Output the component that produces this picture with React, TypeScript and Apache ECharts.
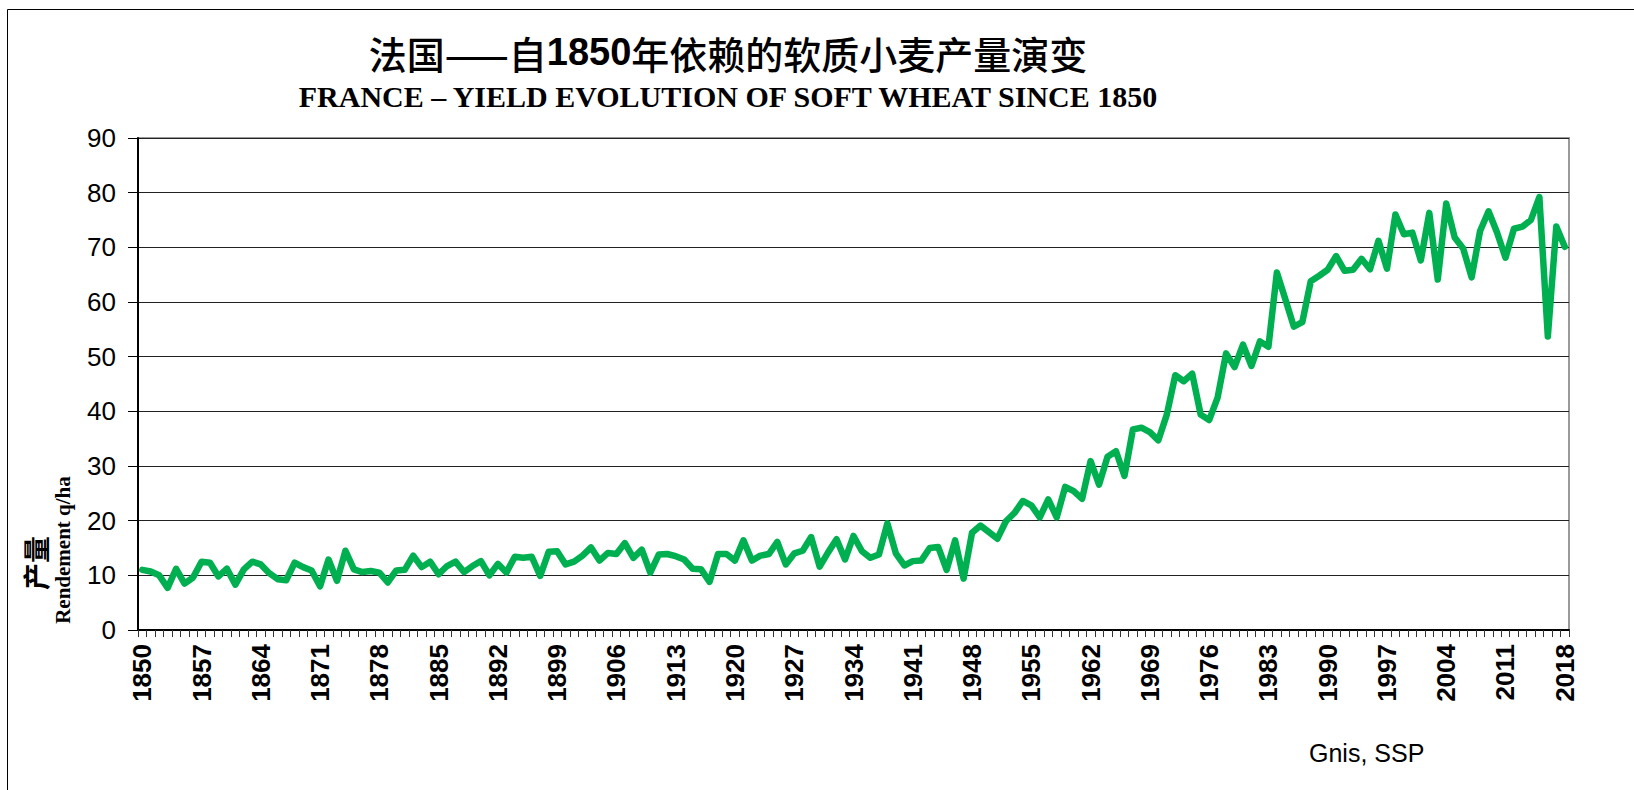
import React, { useEffect, useRef } from "react";
import * as echarts from "echarts";

const FIRST_YEAR = 1850;
const LAST_YEAR = 2018;
const years: string[] = [];
for (let y = FIRST_YEAR; y <= LAST_YEAR; y++) years.push(String(y));

// Rendement (q/ha), 1850 -> 2018
const yields1850s = [11.0, 10.7, 10.0, 7.7, 11.2, 8.5, 9.6, 12.5, 12.3, 9.8];
const yields1860s = [11.2, 8.3, 11.1, 12.5, 12.0, 10.4, 9.3, 9.1, 12.3, 11.5];
const yields1870s = [10.9, 8.0, 12.9, 9.0, 14.5, 11.1, 10.6, 10.8, 10.5, 8.7];
const yields1880s = [10.9, 11.0, 13.6, 11.5, 12.5, 10.2, 11.7, 12.5, 10.6, 11.7];
const yields1890s = [12.6, 10.0, 12.1, 10.5, 13.4, 13.2, 13.4, 9.9, 14.3, 14.4];
const yields1900s = [12.0, 12.5, 13.6, 15.1, 12.7, 14.1, 13.9, 15.9, 13.2, 14.7];
const yields1910s = [10.5, 13.8, 13.9, 13.5, 12.9, 11.2, 11.1, 8.8, 13.9, 13.9];
const yields1920s = [12.7, 16.4, 12.7, 13.6, 13.9, 16.1, 12.0, 14.0, 14.5, 17.0];
const yields1930s = [11.6, 14.2, 16.6, 12.9, 17.2, 14.4, 13.2, 13.8, 19.5, 14.0];
const yields1940s = [11.8, 12.6, 12.7, 15.0, 15.2, 11.0, 16.4, 9.4, 17.8, 19.1];
const yields1950s = [17.9, 16.7, 19.9, 21.4, 23.6, 22.8, 20.6, 23.9, 20.6, 26.2];
const yields1960s = [25.4, 24.0, 30.9, 26.6, 31.7, 32.7, 28.2, 36.7, 37.0, 36.2];
const yields1970s = [34.7, 39.4, 46.6, 45.5, 46.9, 39.4, 38.4, 42.5, 50.6, 48.1];
const yields1980s = [52.2, 48.3, 52.8, 51.8, 65.4, 60.5, 55.5, 56.3, 63.8, 64.8];
const yields1990s = [65.9, 68.4, 65.7, 65.9, 67.9, 66.0, 71.2, 66.1, 76.0, 72.4];
const yields2000s = [72.7, 67.6, 76.3, 64.1, 78.0, 71.8, 69.8, 64.5, 73.0, 76.6];
const yields2010s = [72.7, 68.1, 73.4, 73.8, 75.0, 79.2, 53.7, 73.8, 70.1];

const yields = [
  ...yields1850s, ...yields1860s, ...yields1870s, ...yields1880s, ...yields1890s,
  ...yields1900s, ...yields1910s, ...yields1920s, ...yields1930s, ...yields1940s,
  ...yields1950s, ...yields1960s, ...yields1970s, ...yields1980s, ...yields1990s,
  ...yields2000s, ...yields2010s,
];

const yTicks = { min: 0, max: 90, interval: 10 };

const TITLE_CN_A = "法国——自";
const TITLE_CN_B = "1850";
const TITLE_CN_C = "年依赖的软质小麦产量演变";
const TITLE_EN = "FRANCE – YIELD EVOLUTION OF SOFT WHEAT SINCE 1850";
const Y_NAME_CN = "产量";
const Y_NAME_FR = "Rendement q/ha";
const SOURCE = "Gnis, SSP";

export default function App() {
  const ref = useRef<HTMLDivElement>(null);
  useEffect(() => {
    if (!ref.current) return;
    const chart = echarts.init(ref.current, undefined, { renderer: "svg" });
    const option: any = {
      animation: false,
      backgroundColor: "#ffffff",
      grid: {
        left: 138,
        right: 65,
        top: 138,
        bottom: 160,
        show: true,
        borderColor: "#9a9a9a",
        borderWidth: 2,
        backgroundColor: "transparent",
      },
      xAxis: {
        type: "category",
        data: years,
        boundaryGap: true,
        axisLine: { lineStyle: { color: "#000", width: 2 } },
        axisTick: { show: true, interval: 0, length: 7, lineStyle: { color: "#333", width: 1 } },
        axisLabel: {
          interval: 6,
          rotate: 90,
          margin: 14,
          fontFamily: "Liberation Sans",
          fontWeight: "bold",
          fontSize: 26,
          color: "#000",
        },
        splitLine: { show: false },
      },
      yAxis: {
        type: "value",
        min: yTicks.min,
        max: yTicks.max,
        interval: yTicks.interval,
        axisLine: { show: true, lineStyle: { color: "#000", width: 2 } },
        axisTick: { show: true, length: 10, lineStyle: { color: "#000", width: 1 } },
        axisLabel: {
          margin: 22,
          fontFamily: "Liberation Sans",
          fontSize: 26,
          color: "#000",
        },
        splitLine: { show: true, lineStyle: { color: "#222", width: 1 } },
      },
      series: [
        {
          type: "line",
          data: yields,
          symbol: "none",
          smooth: false,
          lineStyle: { color: "#00B050", width: 6.5, join: "round", cap: "round" },
          itemStyle: { color: "#00B050" },
          z: 3,
        },
      ],
      graphic: [
        {
          type: "rect",
          silent: true,
          shape: { x: 7.5, y: 9.5, width: 1700, height: 900 },
          style: { fill: "none", stroke: "#000", lineWidth: 1 },
        },
        {
          type: "text",
          x: 728,
          y: 52,
          style: {
            text: `{a|${TITLE_CN_A}}{b|${TITLE_CN_B}}{a|${TITLE_CN_C}}`,
            rich: {
              a: { fontFamily: "Noto Sans CJK SC", fontSize: 38, fontWeight: 500, fill: "#000", color: "#000" },
              b: { fontFamily: "Liberation Sans", fontSize: 38, fontWeight: "bold", fill: "#000", color: "#000" },
            },
            align: "center",
            verticalAlign: "middle",
            textAlign: "center",
            textVerticalAlign: "middle",
            fill: "#000",
          },
        },
        {
          type: "text",
          x: 728,
          y: 96,
          style: {
            text: TITLE_EN,
            font: 'bold 30px "Liberation Serif"',
            align: "center",
            verticalAlign: "middle",
            textAlign: "center",
            textVerticalAlign: "middle",
            fill: "#000",
          },
        },
        {
          type: "text",
          x: 35,
          y: 563,
          rotation: Math.PI / 2,
          style: {
            text: Y_NAME_CN,
            font: 'bold 27px "Noto Sans CJK SC"',
            align: "center",
            verticalAlign: "middle",
            textAlign: "center",
            textVerticalAlign: "middle",
            fill: "#000",
          },
        },
        {
          type: "text",
          x: 63,
          y: 550,
          rotation: Math.PI / 2,
          style: {
            text: Y_NAME_FR,
            font: 'bold 21px "Liberation Serif"',
            align: "center",
            verticalAlign: "middle",
            textAlign: "center",
            textVerticalAlign: "middle",
            fill: "#000",
          },
        },
        {
          type: "text",
          x: 1309,
          y: 753,
          style: {
            text: SOURCE,
            font: '25px "Liberation Sans"',
            align: "left",
            verticalAlign: "middle",
            textAlign: "left",
            textVerticalAlign: "middle",
            fill: "#000",
          },
        },
      ],
    };
    chart.setOption(option);
    return () => chart.dispose();
  }, []);
  return (
    <div
      ref={ref}
      style={{ position: "fixed", left: 0, top: 0, width: 1634, height: 790, background: "#fff" }}
    />
  );
}
